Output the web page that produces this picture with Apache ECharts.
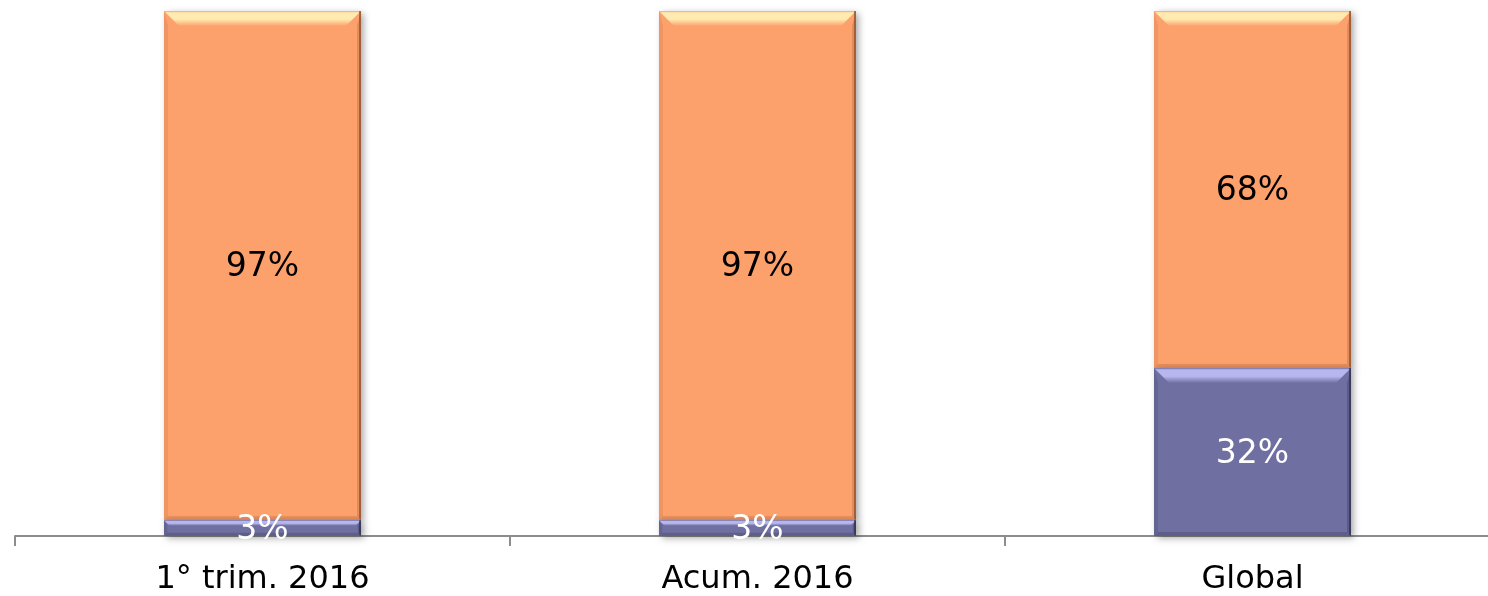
<!DOCTYPE html>
<html>
<head>
<meta charset="utf-8">
<script src="https://cdn.jsdelivr.net/npm/echarts@6/dist/echarts.min.js"></script>
<style>
  html, body { margin: 0; padding: 0; background: #ffffff; overflow: hidden; }
  #chart { width: 1500px; height: 596px; }
</style>
</head>
<body>
<div id="chart"></div>
<script>
// Share of each group per period (percent), bottom segment and top segment
const categories = ['1° trim. 2016', 'Acum. 2016', 'Global'];
const lowerShare = [3, 3, 32];
const upperShare = [97, 97, 68];

// Segment palettes: base fill, bevel highlight, bevel shade, edge, label colour
const lowerStyle = { fill: '#6f6fa1', light: '#b7b7ef', shade: '#5a5a86', edge: '#2f2f52', text: '#ffffff' };
const upperStyle = { fill: '#fda16c', light: '#ffeab0', shade: '#e08a5a', edge: '#8e5030', text: '#000000' };

const FONT = 'DejaVu Sans, Verdana, sans-serif';

function stackData(values, bases) {
  return values.map((v, i) => [i, bases ? bases[i] : 0, (bases ? bases[i] : 0) + v, v]);
}

function bevelBar(style) {
  return function (params, api) {
    const c = api.value(0);
    const p0 = api.coord([c, api.value(1)]);
    const p1 = api.coord([c, api.value(2)]);
    const w = api.size([1, 0])[0] * 0.398;
    const x = p0[0] - w / 2;
    const yTop = p1[1];
    const yBot = p0[1];
    const h = yBot - yTop;
    const b = Math.min(15, h * 0.35);
    const s = Math.min(4, h * 0.2);
    return {
      type: 'group',
      children: [
        {
          type: 'rect',
          shape: { x: x, y: yTop, width: w, height: h },
          style: {
            fill: style.fill,
            shadowBlur: 7,
            shadowOffsetX: 3,
            shadowOffsetY: 2,
            shadowColor: 'rgba(0,0,0,0.35)'
          }
        },
        {
          type: 'polygon',
          shape: { points: [[x, yTop], [x + w, yTop], [x + w - b, yTop + b], [x + b, yTop + b]] },
          style: {
            fill: new echarts.graphic.LinearGradient(0, 0, 0, 1, [
              { offset: 0, color: style.fill },
              { offset: 0.12, color: style.light },
              { offset: 0.55, color: style.light },
              { offset: 1, color: style.fill }
            ])
          }
        },
        {
          type: 'polygon',
          shape: { points: [[x, yTop], [x + s, yTop + b], [x + s, yBot - s], [x, yBot]] },
          style: { fill: style.shade, opacity: 0.5 }
        },
        {
          type: 'polygon',
          shape: { points: [[x + w, yTop], [x + w - s, yTop + b], [x + w - s, yBot - s], [x + w, yBot]] },
          style: { fill: style.shade, opacity: 0.9 }
        },
        {
          type: 'rect',
          shape: { x: x + w - 2, y: yTop, width: 2, height: h },
          style: { fill: style.edge, opacity: 0.75 }
        },
        {
          type: 'polygon',
          shape: { points: [[x, yBot], [x + s, yBot - s], [x + w - s, yBot - s], [x + w, yBot]] },
          style: { fill: style.shade, opacity: 0.8 }
        },
        {
          type: 'text',
          z2: 10,
          style: {
            text: api.value(3) + '%',
            x: p0[0],
            y: (yTop + yBot) / 2 + 2,
            align: 'center',
            verticalAlign: 'middle',
            fill: style.text,
            font: '33px ' + FONT
          }
        }
      ]
    };
  };
}

const chart = echarts.init(document.getElementById('chart'), null, { renderer: 'canvas' });

chart.setOption({
  animation: false,
  backgroundColor: '#ffffff',
  grid: { left: 15, right: 0, top: 11, bottom: 60, containLabel: false },
  xAxis: {
    type: 'category',
    data: categories,
    boundaryGap: true,
    axisLine: { show: true, lineStyle: { color: '#8c8c8c', width: 2 } },
    axisTick: { show: true, length: 10, lineStyle: { color: '#8c8c8c', width: 2 } },
    axisLabel: { color: '#000000', fontSize: 32, fontFamily: FONT, margin: 28 }
  },
  yAxis: {
    type: 'value',
    min: 0,
    max: 100,
    show: false,
    splitLine: { show: false }
  },
  series: [
    {
      type: 'custom',
      name: 'lower',
      renderItem: bevelBar(lowerStyle),
      data: stackData(lowerShare),
      z: 2
    },
    {
      type: 'custom',
      name: 'upper',
      renderItem: bevelBar(upperStyle),
      data: stackData(upperShare, lowerShare),
      z: 1
    }
  ]
});
</script>
</body>
</html>
